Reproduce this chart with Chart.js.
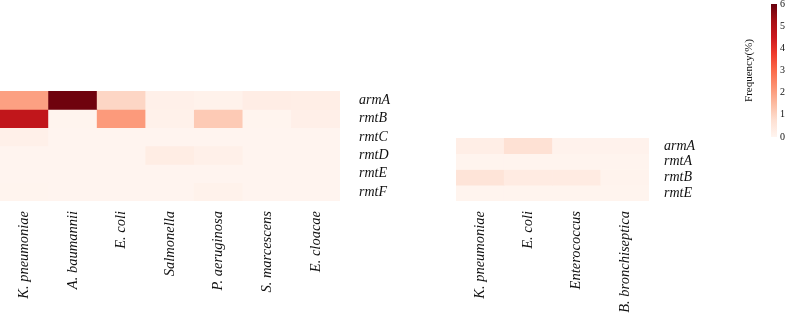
<!DOCTYPE html>
<html>
<head>
<meta charset="utf-8">
<script src="https://cdn.jsdelivr.net/npm/chart.js@4.4.1/dist/chart.umd.min.js"></script>
<style>
  html, body { margin: 0; padding: 0; background: #fff; }
  body { width: 787px; height: 313px; position: relative; overflow: hidden; }
  .box { position: absolute; }
</style>
</head>
<body>
<div class="box" style="left:0px;top:91px;"><canvas id="left" width="400" height="222"></canvas></div>
<div class="box" style="left:456px;top:138px;"><canvas id="right" width="260" height="175"></canvas></div>
<div class="box" style="left:730px;top:0px;"><canvas id="bar" width="57" height="145"></canvas></div>
<script>
// ---------- data ----------
const leftColumns = ['K. pneumoniae', 'A. baumannii', 'E. coli', 'Salmonella', 'P. aeruginosa', 'S. marcescens', 'E. cloacae'];
const leftRows = ['armA', 'rmtB', 'rmtC', 'rmtD', 'rmtE', 'rmtF'];
const leftArmA = [2.0, 5.9, 0.95, 0.18, 0.12, 0.28, 0.25];
const leftRmtB = [4.7, 0.05, 2.1, 0.15, 1.2, 0.05, 0.2];
const leftRmtC = [0.18, 0.02, 0.02, 0.02, 0.02, 0.02, 0.02];
const leftRmtD = [0.02, 0.02, 0.02, 0.3, 0.18, 0.02, 0.02];
const leftRmtE = [0.02, 0.02, 0.02, 0.02, 0.02, 0.02, 0.02];
const leftRmtF = [0.04, 0.02, 0.02, 0.02, 0.12, 0.02, 0.02];

const rightColumns = ['K. pneumoniae', 'E. coli', 'Enterococcus', 'B. bronchiseptica'];
const rightRows = ['armA', 'rmtA', 'rmtB', 'rmtE'];
const rightArmA = [0.25, 0.7, 0.1, 0.1];
const rightRmtA = [0.05, 0.05, 0.05, 0.05];
const rightRmtB = [0.6, 0.35, 0.35, 0.08];
const rightRmtE = [0.05, 0.05, 0.05, 0.05];

const colorbarTicks = [0, 1, 2, 3, 4, 5, 6];
const colorbarTitle = 'Frequency(%)';
const vMin = 0, vMax = 6;

// ---------- colour map (matplotlib "Reds") ----------
const reds = [
  [255,245,240],[254,224,210],[252,187,161],[252,146,114],[251,106,74],
  [239,59,44],[203,24,29],[165,15,21],[103,0,13]
];
function redsColor(v) {
  let t = (v - vMin) / (vMax - vMin);
  t = Math.max(0, Math.min(1, t));
  const p = t * (reds.length - 1);
  const i = Math.min(Math.floor(p), reds.length - 2);
  const f = p - i;
  const a = reds[i], b = reds[i + 1];
  const c = a.map((x, k) => Math.round(x + (b[k] - x) * f));
  return `rgb(${c[0]},${c[1]},${c[2]})`;
}

const rowFont = { family: 'Liberation Serif', size: 14, style: 'italic' };
const colFont = { family: 'Liberation Serif', size: 14.5, style: 'italic' };

function heatmap(canvasId, columns, rows, matrix, yAxisWidth, xAxisHeight, yPad) {
  const datasets = rows.map((r, i) => ({
    label: r,
    data: columns.map(() => [i, i + 1]),
    backgroundColor: matrix[i].map(redsColor),
    borderWidth: 0,
    barPercentage: 1,
    categoryPercentage: 1
  }));
  return new Chart(document.getElementById(canvasId), {
    type: 'bar',
    data: { labels: columns, datasets },
    options: {
      responsive: false,
      devicePixelRatio: 1,
      animation: false,
      events: [],
      layout: { padding: 0 },
      plugins: { legend: { display: false }, tooltip: { enabled: false } },
      scales: {
        x: {
          stacked: true,
          grid: { display: false, drawTicks: false },
          border: { display: false },
          ticks: {
            autoSkip: false, minRotation: 90, maxRotation: 90,
            padding: 10, color: '#111', font: colFont
          },
          afterFit: (s) => { s.height = xAxisHeight; s.paddingLeft = 0; s.paddingRight = 0; }
        },
        y: {
          position: 'right',
          reverse: true,
          min: 0, max: rows.length,
          grid: { display: false, drawTicks: false },
          border: { display: false },
          afterBuildTicks: (s) => { s.ticks = rows.map((_, i) => ({ value: i + 0.5 })); },
          ticks: {
            padding: yPad, color: '#111', font: rowFont,
            callback: (v, idx) => rows[idx]
          },
          afterFit: (s) => { s.width = yAxisWidth; s.paddingTop = 0; s.paddingBottom = 0; }
        }
      }
    }
  });
}

heatmap('left', leftColumns, leftRows,
  [leftArmA, leftRmtB, leftRmtC, leftRmtD, leftRmtE, leftRmtF], 60, 112, 19);
heatmap('right', rightColumns, rightRows,
  [rightArmA, rightRmtA, rightRmtB, rightRmtE], 67, 112, 15);

// ---------- colour bar ----------
new Chart(document.getElementById('bar'), {
  type: 'bar',
  data: {
    labels: [''],
    datasets: [{
      data: [[vMin, vMax]],
      borderWidth: 0,
      barPercentage: 1,
      categoryPercentage: 1,
      backgroundColor: (ctx) => {
        const area = ctx.chart.chartArea;
        if (!area) return redsColor(vMax);
        const g = ctx.chart.ctx.createLinearGradient(0, area.bottom, 0, area.top);
        reds.forEach((c, i) => g.addColorStop(i / (reds.length - 1), `rgb(${c[0]},${c[1]},${c[2]})`));
        return g;
      }
    }]
  },
  options: {
    responsive: false,
    devicePixelRatio: 1,
    animation: false,
    events: [],
    layout: { padding: { top: 4, bottom: 8, left: 0, right: 0 } },
    plugins: { legend: { display: false }, tooltip: { enabled: false } },
    scales: {
      x: { display: false },
      y: {
        position: 'right',
        min: vMin, max: vMax,
        grid: { display: false, drawTicks: false },
        border: { display: false },
        afterBuildTicks: (s) => { s.ticks = colorbarTicks.map(v => ({ value: v })); },
        ticks: { padding: 3, color: '#111', font: { family: 'Liberation Serif', size: 10 } },
        afterFit: (s) => { s.width = 10; s.paddingTop = 0; s.paddingBottom = 0; }
      },
      yTitle: {
        position: 'left',
        min: vMin, max: vMax,
        grid: { display: false, drawTicks: false },
        border: { display: false },
        ticks: { display: false },
        title: {
          display: true, text: colorbarTitle, color: '#111',
          font: { family: 'Liberation Serif', size: 11 },
          padding: { top: 13, bottom: 0 }
        },
        afterFit: (s) => { s.width = 41; s.paddingTop = 0; s.paddingBottom = 0; }
      }
    }
  }
});
</script>
</body>
</html>
